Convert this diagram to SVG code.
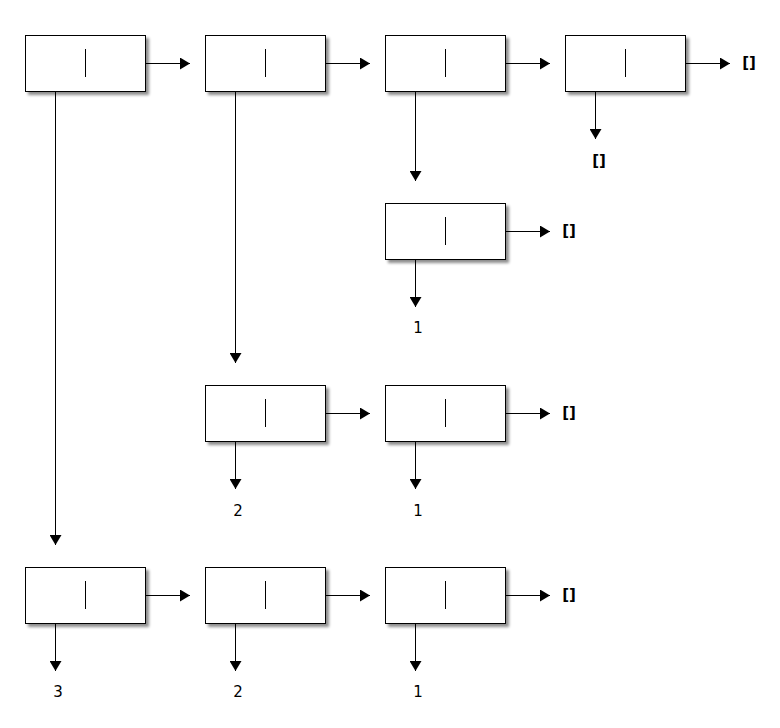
<svg xmlns="http://www.w3.org/2000/svg" width="780" height="728" viewBox="0 0 780 728">
<defs>
<filter id="sh" x="-10%" y="-10%" width="130%" height="140%">
<feGaussianBlur in="SourceAlpha" stdDeviation="1.5"/>
<feOffset dx="3" dy="3" result="b"/>
<feComponentTransfer><feFuncA type="linear" slope="0.45"/></feComponentTransfer>
<feMerge><feMergeNode/><feMergeNode in="SourceGraphic"/></feMerge>
</filter>
<marker id="ah" markerWidth="10" markerHeight="12" refX="10" refY="6" orient="auto" markerUnits="userSpaceOnUse">
<path d="M0,0 L10,6 L0,12 Z" fill="#000"/>
</marker>
</defs>
<style>
.box rect{fill:#fff;stroke:#000;stroke-width:1;filter:url(#sh)}
.box line{stroke:#000;stroke-width:1}
#connectors line{stroke:#000;stroke-width:1;marker-end:url(#ah)}
text{font-family:"DejaVu Sans",sans-serif;font-size:15px;fill:#000;text-anchor:middle}
.nil{font-weight:bold}
</style>
<rect width="780" height="728" fill="#fff"/>
<g id="n1" class="box"><rect x="25.5" y="35.5" width="120" height="56"/><line x1="85.5" y1="49" x2="85.5" y2="77"/></g>
<g id="n2" class="box"><rect x="205.5" y="35.5" width="120" height="56"/><line x1="265.5" y1="49" x2="265.5" y2="77"/></g>
<g id="n3" class="box"><rect x="385.5" y="35.5" width="120" height="56"/><line x1="445.5" y1="49" x2="445.5" y2="77"/></g>
<g id="n4" class="box"><rect x="565.5" y="35.5" width="120" height="56"/><line x1="625.5" y1="49" x2="625.5" y2="77"/></g>
<g id="n5" class="box"><rect x="385.5" y="203.5" width="120" height="56"/><line x1="445.5" y1="217" x2="445.5" y2="245"/></g>
<g id="n6" class="box"><rect x="205.5" y="385.5" width="120" height="56"/><line x1="265.5" y1="399" x2="265.5" y2="427"/></g>
<g id="n7" class="box"><rect x="385.5" y="385.5" width="120" height="56"/><line x1="445.5" y1="399" x2="445.5" y2="427"/></g>
<g id="n8" class="box"><rect x="25.5" y="567.5" width="120" height="56"/><line x1="85.5" y1="581" x2="85.5" y2="609"/></g>
<g id="n9" class="box"><rect x="205.5" y="567.5" width="120" height="56"/><line x1="265.5" y1="581" x2="265.5" y2="609"/></g>
<g id="n10" class="box"><rect x="385.5" y="567.5" width="120" height="56"/><line x1="445.5" y1="581" x2="445.5" y2="609"/></g>
<g id="connectors">
<line x1="146" y1="63.5" x2="190" y2="63.5"/>
<line x1="326" y1="63.5" x2="370" y2="63.5"/>
<line x1="506" y1="63.5" x2="550" y2="63.5"/>
<line x1="686" y1="63.5" x2="730" y2="63.5"/>
<line x1="55.5" y1="92" x2="55.5" y2="545"/>
<line x1="235.5" y1="92" x2="235.5" y2="363"/>
<line x1="415.5" y1="92" x2="415.5" y2="181"/>
<line x1="595.5" y1="92" x2="595.5" y2="139"/>
<line x1="506" y1="231.5" x2="550" y2="231.5"/>
<line x1="415.5" y1="260" x2="415.5" y2="307"/>
<line x1="326" y1="413.5" x2="370" y2="413.5"/>
<line x1="506" y1="413.5" x2="550" y2="413.5"/>
<line x1="235.5" y1="442" x2="235.5" y2="489"/>
<line x1="415.5" y1="442" x2="415.5" y2="489"/>
<line x1="146" y1="595.5" x2="190" y2="595.5"/>
<line x1="326" y1="595.5" x2="370" y2="595.5"/>
<line x1="506" y1="595.5" x2="550" y2="595.5"/>
<line x1="55.5" y1="624" x2="55.5" y2="671"/>
<line x1="235.5" y1="624" x2="235.5" y2="671"/>
<line x1="415.5" y1="624" x2="415.5" y2="671"/>
</g>
<g id="labels">
<text class="nil" x="749" y="68">[]</text>
<text class="nil" x="599" y="166">[]</text>
<text class="nil" x="569" y="236">[]</text>
<text x="418" y="333">1</text>
<text class="nil" x="569" y="418">[]</text>
<text x="238" y="516">2</text>
<text x="418" y="516">1</text>
<text class="nil" x="569" y="600">[]</text>
<text x="58" y="697">3</text>
<text x="238" y="697">2</text>
<text x="418" y="697">1</text>
</g>
</svg>
